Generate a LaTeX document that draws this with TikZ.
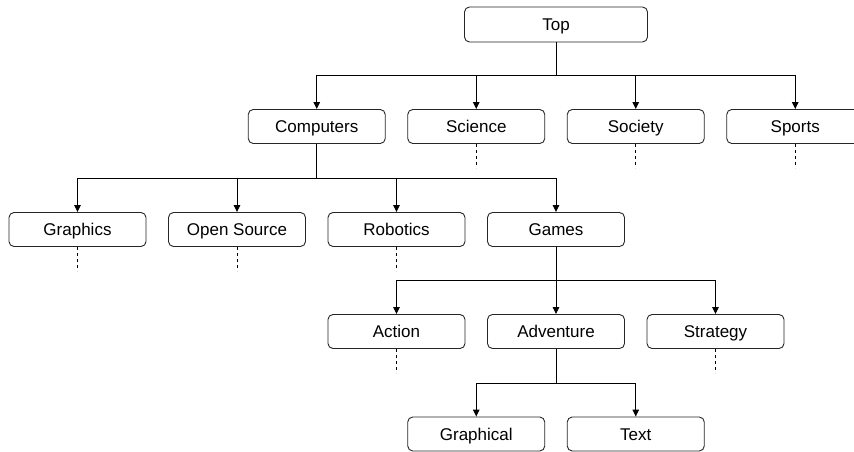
\documentclass[tikz,border=0pt]{standalone}
\usepackage{fontspec}
\setmainfont{Liberation Sans}
\usetikzlibrary{arrows.meta}
\begin{document}
\begin{tikzpicture}[x=1pt,y=-1pt,
 box/.style={draw=black!85, line width=0.9pt, rounded corners=5pt, minimum width=137pt, minimum height=34pt, inner sep=0pt, text height=12.2pt, text depth=0pt, font=\fontsize{17}{20}\selectfont},
 conn/.style={line width=0.9pt, -{Triangle[width=6.5pt,length=7pt]}},
 link/.style={line width=0.9pt},
 stub/.style={line width=0.9pt, dash pattern=on 3pt off 3pt}]
\clip (0,0) rectangle (854,452);
% nodes
\node[box, minimum width=183pt, minimum height=35pt] (top) at (556,24.5) {Top};
\node[box] (comp) at (316.75,126.5) {Computers};
\node[box] (sci) at (476.25,126.5) {Science};
\node[box] (soc) at (635.75,126.5) {Society};
\node[box] (spo) at (795.25,126.5) {Sports};
\node[box] (gra) at (77.5,229.5) {Graphics};
\node[box] (ope) at (237,229.5) {Open Source};
\node[box] (rob) at (396.5,229.5) {Robotics};
\node[box] (gam) at (556,229.5) {Games};
\node[box] (act) at (396.5,331.5) {Action};
\node[box] (adv) at (556,331.5) {Adventure};
\node[box] (str) at (715.5,331.5) {Strategy};
\node[box] (gph) at (476.25,434) {Graphical};
\node[box] (txt) at (635.75,434) {Text};
% junctions
\coordinate (j1) at (556,75);
\coordinate (j2) at (316.75,178);
\coordinate (j3) at (556,280);
\coordinate (j4) at (556,383);
\draw[link] (top.south) -- (j1);
\foreach \n in {comp,sci,soc,spo} \draw[conn] (j1) -| (\n.north);
\draw[link] (comp.south) -- (j2);
\foreach \n in {gra,ope,rob,gam} \draw[conn] (j2) -| (\n.north);
\draw[link] (gam.south) -- (j3);
\foreach \n in {act,adv,str} \draw[conn] (j3) -| (\n.north);
\draw[link] (adv.south) -- (j4);
\foreach \n in {gph,txt} \draw[conn] (j4) -| (\n.north);
% dashed stubs
\foreach \n in {sci,soc,spo,gra,ope,rob,act,str} {
  \coordinate (\n-e) at ([yshift=-24pt]\n.south);
  \draw[stub] (\n.south) -- (\n-e);
}
\end{tikzpicture}
\end{document}
